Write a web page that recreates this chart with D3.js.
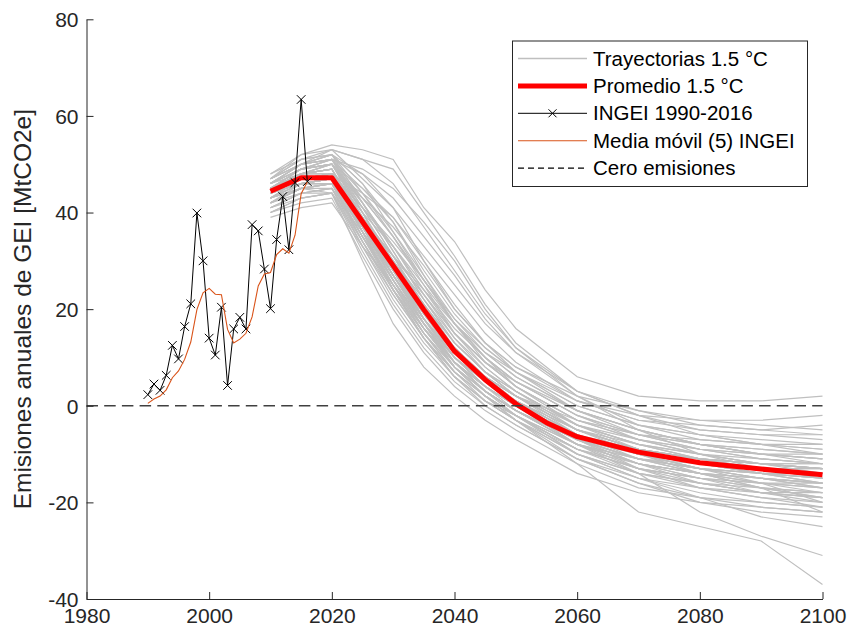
<!DOCTYPE html>
<html>
<head>
<meta charset="utf-8">
<script src="https://cdn.jsdelivr.net/npm/d3@7/dist/d3.min.js"></script>
<style>
  html, body { margin: 0; padding: 0; background: #fff; }
  svg { display: block; font-family: "Liberation Sans", Arial, Helvetica, sans-serif; }
</style>
</head>
<body>
<svg id="chart" width="851" height="634"></svg>
<script>
// Years at which each 1.5 °C trajectory is defined
const trajYears = [2010, 2015, 2020, 2025, 2030, 2035, 2040, 2045, 2050, 2060, 2070, 2080, 2090, 2100];

// 1.5 °C emission trajectories [MtCO2e]
const trajectories = [
  [45, 48, 50, 42, 32, 22, 13, 7, 2, -5, -9, -11, -12, -13],
  [44, 47, 48, 38, 28, 19, 11, 5, 1, -6, -10, -12, -13, -14],
  [46, 50, 52, 46, 36, 26, 17, 10, 5, -2, -6, -8, -9, -10],
  [43, 46, 47, 36, 26, 17, 9, 4, 0, -7, -11, -13, -14, -15],
  [47, 51, 53, 51, 46, 37, 28, 19, 12, 3, -2, -5, -6, -7],
  [42, 45, 46, 34, 24, 15, 8, 3, -1, -8, -12, -14, -16, -17],
  [45, 49, 51, 48, 43, 35, 27, 18, 11, 2, -4, -7, -8, -9],
  [44, 46, 46, 35, 25, 16, 9, 4, 0, -6, -10, -12, -14, -16],
  [41, 44, 45, 33, 22, 13, 6, 1, -3, -10, -14, -16, -18, -19],
  [46, 49, 50, 40, 30, 21, 13, 7, 3, -4, -7, -9, -10, -11],
  [48, 52, 54, 53, 51, 41, 34, 24, 16, 6, 2, 1, 1, 2],
  [43, 46, 47, 37, 27, 18, 10, 4, 0, -7, -11, -13, -15, -17],
  [45, 48, 49, 39, 30, 21, 12, 6, 2, -5, -9, -11, -12, -13],
  [44, 47, 48, 44, 39, 31, 23, 15, 9, 1, -3, -4, -5, -4],
  [40, 43, 44, 32, 21, 12, 5, 0, -4, -11, -16, -20, -22, -23],
  [46, 50, 51, 41, 31, 20, 11, 5, 1, -6, -10, -13, -15, -17],
  [45, 48, 49, 38, 27, 17, 9, 3, -1, -7, -11, -13, -14, -15],
  [43, 47, 48, 40, 33, 25, 17, 11, 7, 0, -4, -6, -7, -8],
  [44, 46, 46, 34, 23, 14, 6, 1, -2, -9, -13, -15, -17, -19],
  [47, 50, 51, 43, 35, 26, 17, 10, 5, -2, -6, -9, -11, -12],
  [42, 45, 46, 36, 27, 18, 10, 5, 1, -6, -10, -13, -16, -20],
  [45, 49, 51, 49, 45, 38, 30, 20, 12, 2, -5, -10, -13, -15],
  [44, 47, 47, 37, 27, 18, 10, 5, 1, -5, -8, -10, -11, -12],
  [46, 49, 50, 39, 28, 17, 8, 2, -2, -9, -13, -15, -16, -17],
  [43, 46, 47, 38, 30, 22, 14, 8, 3, -4, -8, -10, -12, -13],
  [45, 48, 49, 36, 24, 14, 6, 0, -4, -11, -16, -19, -21, -22],
  [44, 47, 48, 41, 34, 26, 18, 12, 7, 1, -2, -3, -3, -2],
  [41, 44, 45, 35, 26, 17, 9, 3, -1, -8, -12, -14, -15, -16],
  [46, 50, 52, 44, 35, 25, 15, 8, 3, -5, -9, -11, -12, -13],
  [45, 48, 48, 37, 26, 16, 8, 2, -2, -8, -12, -15, -17, -18],
  [43, 46, 47, 39, 31, 23, 15, 9, 4, -3, -6, -8, -9, -10],
  [44, 47, 48, 36, 25, 15, 7, 2, -2, -10, -15, -19, -23, -25],
  [47, 51, 52, 42, 32, 22, 13, 7, 2, -5, -9, -12, -14, -15],
  [44, 47, 48, 37, 26, 16, 8, 2, -3, -12, -22, -25, -28, -37],
  [45, 48, 48, 38, 28, 18, 10, 4, 0, -8, -14, -22, -27, -31],
  [44, 46, 47, 36, 25, 16, 8, 3, -1, -7, -11, -14, -17, -22],
  [46, 49, 50, 42, 33, 24, 15, 9, 4, -3, -7, -10, -12, -14],
  [43, 45, 46, 35, 24, 14, 7, 2, -2, -9, -14, -17, -19, -21],
  [45, 48, 50, 40, 29, 19, 11, 5, 1, -6, -10, -12, -13, -14],
  [42, 46, 47, 38, 29, 20, 12, 6, 2, -4, -8, -11, -13, -15],
  [47, 50, 51, 45, 38, 28, 19, 12, 7, 0, -4, -6, -8, -9],
  [44, 47, 48, 37, 27, 17, 9, 3, -1, -8, -12, -14, -15, -16],
  [45, 49, 50, 41, 31, 21, 12, 6, 2, -5, -9, -11, -13, -14],
  [40, 42, 43, 31, 20, 11, 4, -1, -5, -12, -17, -19, -20, -21],
  [46, 50, 53, 51, 49, 40, 31, 21, 13, 3, -2, -6, -8, -10],
  [44, 46, 47, 38, 28, 19, 11, 5, 1, -6, -11, -14, -16, -18],
  [43, 47, 48, 39, 29, 19, 10, 4, 0, -6, -9, -11, -12, -12],
  [45, 48, 49, 37, 26, 16, 8, 2, -2, -9, -13, -15, -16, -16],
  [46, 49, 51, 44, 36, 27, 18, 11, 6, -1, -5, -8, -10, -11],
  [41, 44, 45, 34, 24, 15, 8, 3, -1, -7, -12, -15, -18, -20],
  [42, 45, 44, 30, 17, 8, 2, -3, -7, -14, -18, -20, -21, -22],
  [39, 41, 42, 33, 25, 17, 10, 5, 1, -5, -9, -12, -14, -15],
  [47, 52, 53, 47, 41, 33, 25, 17, 11, 3, -1, -4, -5, -6],
  [44, 48, 50, 40, 29, 18, 9, 3, -2, -10, -15, -18, -20, -21],
  [45, 47, 48, 41, 33, 24, 16, 10, 5, -2, -7, -10, -12, -13],
  [43, 45, 45, 37, 29, 20, 12, 6, 1, -7, -13, -17, -19, -20],
  [46, 48, 49, 39, 28, 18, 10, 4, -1, -8, -11, -13, -14, -14],
  [42, 44, 44, 33, 23, 14, 7, 2, -2, -8, -11, -12, -13, -13],
  [48, 51, 52, 48, 41, 30, 20, 13, 8, 2, -1, -3, -4, -5],
  [44, 47, 47, 39, 31, 23, 15, 9, 5, -1, -5, -8, -10, -11],
  [45, 48, 49, 38, 27, 17, 8, 2, -3, -11, -15, -17, -18, -18],
  [41, 43, 44, 36, 28, 20, 12, 6, 2, -5, -10, -14, -17, -19],
  [46, 49, 50, 43, 35, 26, 17, 10, 4, -4, -9, -12, -14, -16],
  [44, 46, 47, 37, 27, 18, 11, 6, 2, -3, -6, -7, -8, -8],
  [43, 46, 46, 35, 25, 16, 9, 4, 0, -7, -12, -16, -18, -19],
  [47, 50, 51, 42, 33, 23, 14, 7, 2, -6, -10, -12, -13, -13],
  [45, 47, 48, 36, 24, 14, 6, 1, -3, -9, -12, -14, -15, -16],
  [44, 47, 48, 43, 37, 29, 20, 13, 8, 1, -3, -5, -6, -6],
  [42, 45, 46, 37, 28, 19, 11, 5, 0, -8, -13, -16, -18, -19],
  [46, 50, 51, 40, 29, 18, 9, 3, -1, -7, -10, -11, -12, -12],
  [43, 46, 47, 39, 30, 21, 13, 7, 3, -4, -8, -11, -12, -13],
  [45, 49, 50, 45, 39, 30, 21, 13, 7, -1, -6, -9, -11, -12],
  [44, 46, 46, 35, 25, 15, 7, 1, -3, -10, -14, -16, -17, -18],
  [40, 43, 44, 34, 24, 16, 9, 4, 0, -6, -10, -13, -15, -16],
  [47, 50, 52, 46, 38, 27, 17, 9, 4, -3, -7, -9, -10, -10],
  [43, 45, 46, 38, 31, 24, 17, 11, 6, -1, -5, -8, -10, -12]
];

// Mean 1.5 °C trajectory
const meanYears  = [2010, 2015, 2020, 2025, 2030, 2035, 2040, 2045, 2050, 2055, 2060, 2070, 2080, 2090, 2100];
const meanValues = [44.4, 47.2, 47.2, 38.1, 29.0, 19.9, 11.3, 5.4, 0.4, -3.5, -6.4, -9.6, -11.8, -13.1, -14.3];

// National GHG inventory (INGEI) 1990-2016 and its 5-year moving average
const ingeiYears  = [1990, 1991, 1992, 1993, 1994, 1995, 1996, 1997, 1998, 1999, 2000, 2001, 2002, 2003,
                     2004, 2005, 2006, 2007, 2008, 2009, 2010, 2011, 2012, 2013, 2014, 2015, 2016];
const ingeiValues = [2.3, 4.5, 3.2, 6.3, 12.5, 9.7, 16.4, 21.1, 39.9, 30.0, 14.0, 10.5, 20.4, 4.2,
                     15.9, 18.3, 15.9, 37.5, 36.2, 28.3, 20.1, 34.4, 43.3, 32.3, 46.2, 63.4, 46.4];
const movAvgValues = [0.5, 1.4, 2.0, 3.3, 5.8, 7.2, 9.6, 13.2, 19.9, 23.4, 24.3, 23.1, 23.0, 15.8,
                      13.0, 13.8, 15.0, 18.4, 24.8, 27.3, 27.6, 31.3, 32.5, 31.6, 35.3, 43.9, 46.3];

// Axis ticks
const xTicks = [1980, 2000, 2020, 2040, 2060, 2080, 2100];
const yTicks = [-40, -20, 0, 20, 40, 60, 80];

const legendLabels = ["Trayectorias 1.5 °C", "Promedio 1.5 °C", "INGEI 1990-2016", "Media móvil (5) INGEI", "Cero emisiones"];

const axisColor = "#262626";
const grayColor = "#bfbfbf";
const redColor = "#ff0000";
const orangeColor = "#d95319";

const svg = d3.select("#chart");

const x = d3.scaleLinear().domain([1980, 2100]).range([86.5, 822.5]);
const y = d3.scaleLinear().domain([-40, 80]).range([599, 19.3]);

const line = d3.line().x(d => x(d[0])).y(d => y(d[1]));

// Trajectories
const gTraj = svg.append("g");
trajectories.forEach(row => {
  gTraj.append("path")
    .attr("d", line(trajYears.map((yr, i) => [yr, row[i]])))
    .attr("fill", "none")
    .attr("stroke", grayColor)
    .attr("stroke-width", 1.2);
});

// Mean trajectory
svg.append("path")
  .attr("d", line(meanYears.map((yr, i) => [yr, meanValues[i]])))
  .attr("fill", "none")
  .attr("stroke", redColor)
  .attr("stroke-width", 5)
  .attr("stroke-linejoin", "round");

// Inventory with x markers
const ingeiPts = ingeiYears.map((yr, i) => [yr, ingeiValues[i]]);
svg.append("path")
  .attr("d", line(ingeiPts))
  .attr("fill", "none")
  .attr("stroke", "#000")
  .attr("stroke-width", 1);

function xMarker(g, cx, cy, r) {
  g.append("path")
    .attr("d", `M${cx - r},${cy - r}L${cx + r},${cy + r}M${cx - r},${cy + r}L${cx + r},${cy - r}`)
    .attr("stroke", "#000")
    .attr("stroke-width", 1)
    .attr("fill", "none");
}
const gMarks = svg.append("g");
ingeiPts.forEach(p => xMarker(gMarks, x(p[0]), y(p[1]), 4.3));

// Moving average
svg.append("path")
  .attr("d", line(ingeiYears.map((yr, i) => [yr, movAvgValues[i]])))
  .attr("fill", "none")
  .attr("stroke", orangeColor)
  .attr("stroke-width", 1.1);

// Zero-emission reference
svg.append("line")
  .attr("x1", x(1980)).attr("x2", x(2100))
  .attr("y1", y(0)).attr("y2", y(0))
  .attr("stroke", "#404040")
  .attr("stroke-width", 1.3)
  .attr("stroke-dasharray", "11.5,6.2");

// Axes
const fontSize = 21;
const gx = svg.append("g")
  .attr("transform", `translate(0,${y(-40)})`)
  .call(d3.axisBottom(x).tickValues(xTicks).tickFormat(d3.format("d")).tickSizeInner(-7).tickSizeOuter(0).tickPadding(9));
const gy = svg.append("g")
  .attr("transform", `translate(${x(1980)},0)`)
  .call(d3.axisLeft(y).tickValues(yTicks).tickFormat(d => d).tickSizeInner(-7).tickSizeOuter(0).tickPadding(8));

[gx, gy].forEach(g => {
  g.select(".domain").attr("stroke", axisColor).attr("stroke-width", 1);
  g.selectAll(".tick line").attr("stroke", axisColor).attr("stroke-width", 1);
  g.selectAll(".tick text")
    .attr("fill", axisColor)
    .style("font-size", fontSize + "px")
    .style("font-family", "'Liberation Sans', Arial, Helvetica, sans-serif");
});
gy.selectAll(".tick text").attr("dy", "0.35em");

// Y axis label
svg.append("text")
  .attr("transform", `translate(31,${(y(80) + y(-40)) / 2}) rotate(-90)`)
  .attr("text-anchor", "middle")
  .attr("fill", axisColor)
  .style("font-size", "24.5px")
  .text("Emisiones anuales de GEI [MtCO2e]");

// Legend
const lg = svg.append("g");
lg.append("rect")
  .attr("x", 512.5).attr("y", 41)
  .attr("width", 295).attr("height", 145.5)
  .attr("fill", "#fff")
  .attr("stroke", axisColor)
  .attr("stroke-width", 1);

const rowY = i => 58.5 + i * 27.4;
const sx0 = 518, sx1 = 587;
const styles = [
  { stroke: grayColor, width: 1.5 },
  { stroke: redColor, width: 5 },
  { stroke: "#000", width: 1, marker: true },
  { stroke: orangeColor, width: 1.1 },
  { stroke: "#000", width: 1.1, dash: "6,4" }
];
legendLabels.forEach((lab, i) => {
  const st = styles[i];
  const l = lg.append("line")
    .attr("x1", sx0).attr("x2", sx1)
    .attr("y1", rowY(i)).attr("y2", rowY(i))
    .attr("stroke", st.stroke)
    .attr("stroke-width", st.width);
  if (st.dash) l.attr("stroke-dasharray", st.dash);
  if (st.marker) xMarker(lg, (sx0 + sx1) / 2, rowY(i), 4);
  lg.append("text")
    .attr("x", 593).attr("y", rowY(i))
    .attr("dy", "0.35em")
    .attr("fill", "#000")
    .style("font-size", "20.5px")
    .text(lab);
});
</script>
</body>
</html>
